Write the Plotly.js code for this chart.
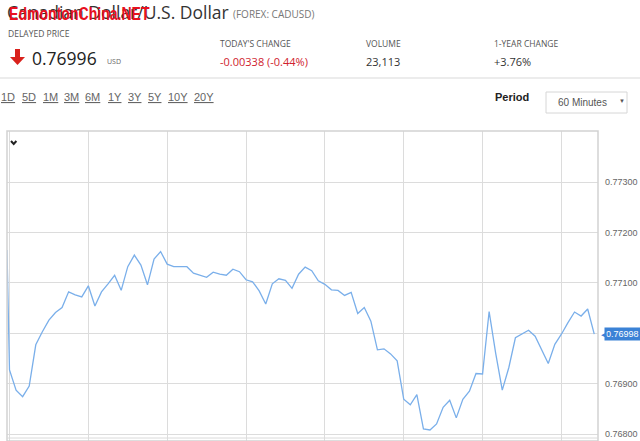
<!DOCTYPE html>
<html>
<head>
<meta charset="utf-8">
<script src="https://cdn.plot.ly/plotly-3.0.1.min.js"></script>
<style>
html,body{margin:0;padding:0;background:#fff;}
#chart{width:640px;height:441px;}
</style>
</head>
<body>
<div id="chart"></div>
<script>
// ---- data ----
const pairTitle = "Canadian Dollar/U.S. Dollar";
const pairCode = "(FOREX: CADUSD)";
const watermark = "EdmontonChina.NET";
const delayedPrice = "0.76996";
const todaysChange = "-0.00338 (-0.44%)";
const volume = "23,113";
const yearChange = "+3.76%";
const rangeLabels = ["1D","5D","1M","3M","6M","1Y","3Y","5Y","10Y","20Y"];
const periodLabel = "60 Minutes";

// hourly closes (first value = previous session close point)
const prices = [
  0.77165,
  0.76927, 0.76887, 0.76874, 0.76895, 0.76977, 0.77003, 0.77026, 0.77041, 0.77051, 0.77082,
  0.77076, 0.77072, 0.77094, 0.77054, 0.77082, 0.77098, 0.77115, 0.77085, 0.77132, 0.77155,
  0.77135, 0.77096, 0.77147, 0.77162, 0.77137, 0.77132, 0.77132, 0.77132, 0.77119, 0.77115,
  0.77111, 0.77121, 0.77117, 0.77115, 0.77127, 0.77122, 0.77106, 0.77102, 0.77084, 0.77058,
  0.77098, 0.77108, 0.77105, 0.77089, 0.77117, 0.77131, 0.77124, 0.77104, 0.77097, 0.77086,
  0.77085, 0.77075, 0.77081, 0.77039, 0.77051, 0.77024, 0.76967, 0.76969, 0.76959, 0.76945,
  0.76869, 0.76858, 0.76878, 0.76810, 0.76808, 0.76820, 0.76853, 0.76867, 0.76832, 0.76869,
  0.76885, 0.76920, 0.76919, 0.77043, 0.76960, 0.76887, 0.76932, 0.76991, 0.76998, 0.77006,
  0.76994, 0.76967, 0.76940, 0.76978, 0.76998, 0.77021, 0.77042, 0.77034, 0.77048, 0.76998
];
const firstHour = -0.38;
const hours = [firstHour];
for (let i = 1; i < prices.length; i++) hours.push(i - 1);

const yTickVals = [0.768, 0.769, 0.770, 0.771, 0.772, 0.773];
const yTickText = ["0.76800", "0.76900", "", "0.77100", "0.77200", "0.77300"];

// ---- layout helpers (pixel -> paper) ----
const L = 7, R = 598, T = 131, B = 441;
const P = x => (x - L) / (R - L);
const Q = y => (B - y) / (B - T);

const hdr = "Open Sans, Noto Sans, sans-serif";
const ar = "Arial, Liberation Sans, sans-serif";

function ann(text, x, y, size, color, family, extra) {
  return Object.assign({
    text: text, xref: "paper", yref: "paper", x: P(x), y: Q(y),
    xanchor: "left", yanchor: "middle", showarrow: false,
    font: {size: size, color: color, family: family || hdr}
  }, extra || {});
}

const annotations = [
  ann(pairTitle, 5, 12, 17.5, "#333", hdr),
  ann(pairCode, 231, 14, 10, "#777", hdr),
  ann("<b>" + watermark + "</b>", 7, 13, 19, "#e8101e", "Liberation Sans Narrow, Arial Narrow, Liberation Sans, sans-serif"),
  ann("DELAYED PRICE", 6, 34, 8.5, "#555", hdr),
  ann(delayedPrice, 30, 58, 17.5, "#222", hdr),
  ann("USD", 105, 62, 7, "#666", hdr),
  ann("TODAY'S CHANGE", 218, 43.5, 8.5, "#555", hdr),
  ann(todaysChange, 218, 62, 11, "#d0222d", hdr),
  ann("VOLUME", 364, 43.5, 8.5, "#555", hdr),
  ann(volume, 364, 62, 11, "#333", hdr),
  ann("1-YEAR CHANGE", 492, 43.5, 8.5, "#555", hdr),
  ann(yearChange, 492, 62, 11, "#333", hdr),
  ann("<b>Period</b>", 493, 97, 11, "#222", ar),
  ann(periodLabel, 556, 102.5, 10, "#555", ar),
  ann("▼", 617, 101.5, 6, "#555", ar)
];
const rangeX = [-1, 19.5, 40.5, 61.5, 83, 106, 126, 146, 166, 192];
rangeLabels.forEach((t, i) => {
  annotations.push(ann('<span style="text-decoration:underline">' + t + '</span>', rangeX[i], 97, 11, "#666", ar));
});
// current value tag
const last = prices[prices.length - 1];
annotations.push({
  text: last.toFixed(5), xref: "paper", yref: "y", x: 1, y: last,
  xanchor: "left", yanchor: "middle", showarrow: false, xshift: 6,
  bgcolor: "#3b82d6", borderpad: 1,
  font: {size: 9, color: "#fff", family: ar}
});
annotations.push({
  text: "◀", xref: "paper", yref: "y", x: 1, y: last,
  xanchor: "left", yanchor: "middle", showarrow: false, xshift: 1,
  font: {size: 7, color: "#3b82d6", family: ar}
});

const shapes = [
  {type: "line", xref: "paper", yref: "paper", x0: P(0), x1: P(640), y0: Q(78), y1: Q(78), line: {color: "#ececec", width: 2}},
  {type: "path", xref: "paper", yref: "paper",
   path: `M ${P(15)} ${Q(49)} L ${P(20)} ${Q(49)} L ${P(20)} ${Q(57)} L ${P(25)} ${Q(57)} L ${P(17.5)} ${Q(65)} L ${P(10)} ${Q(57)} L ${P(15)} ${Q(57)} Z`,
   fillcolor: "#d9211c", line: {width: 0}},
  {type: "rect", xref: "paper", yref: "paper", x0: P(546), x1: P(627), y0: Q(92), y1: Q(113), line: {color: "#d6d6d6", width: 1}, fillcolor: "rgba(0,0,0,0)"},
  {type: "rect", xref: "paper", yref: "paper", x0: 0, x1: 1, y0: 0, y1: 1, line: {color: "#d2d2d2", width: 1.5}},
  {type: "line", xref: "paper", yref: "paper", x0: 0, x1: 1, y0: Q(438), y1: Q(438), line: {color: "#dadada", width: 1}},
  {type: "path", xref: "paper", yref: "paper",
   path: `M ${P(11)} ${Q(141)} L ${P(13.7)} ${Q(144)} L ${P(16.4)} ${Q(141)}`,
   line: {color: "#222", width: 2}}
];

const trace = {
  x: hours, y: prices, type: "scatter", mode: "lines",
  line: {color: "#7aafea", width: 1.3},
  hoverinfo: "none"
};

const layout = {
  width: 640, height: 441,
  margin: {l: L, r: 640 - R, t: T, b: 0, pad: 0},
  paper_bgcolor: "#fff", plot_bgcolor: "#fff",
  showlegend: false,
  xaxis: {
    range: [-0.38, 89.57], tick0: 0, dtick: 12, showticklabels: false,
    showgrid: true, gridcolor: "#dcdcdc", gridwidth: 1, zeroline: false, showline: false, ticks: ""
  },
  yaxis: {
    range: [0.768 - 7 / 50.4 * 0.001, 0.768 + 303 / 50.4 * 0.001],
    side: "right", tickmode: "array", tickvals: yTickVals, ticktext: yTickText,
    showgrid: true, gridcolor: "#dcdcdc", gridwidth: 1, zeroline: false, showline: false,
    ticks: "", ticklabelstandoff: 6,
    tickfont: {size: 9, color: "#666", family: ar}
  },
  annotations: annotations,
  shapes: shapes
};

Plotly.newPlot("chart", [trace], layout, {staticPlot: true, displayModeBar: false}).then(function () {
  // condense the watermark horizontally, as in the reference
  const g = document.querySelector('#chart g.annotation[data-index="2"] text');
  if (g) {
    g.style.transformBox = "fill-box";
    g.style.transformOrigin = "left center";
    g.style.transform = "scaleX(0.74)";
  }
});
</script>
</body>
</html>
